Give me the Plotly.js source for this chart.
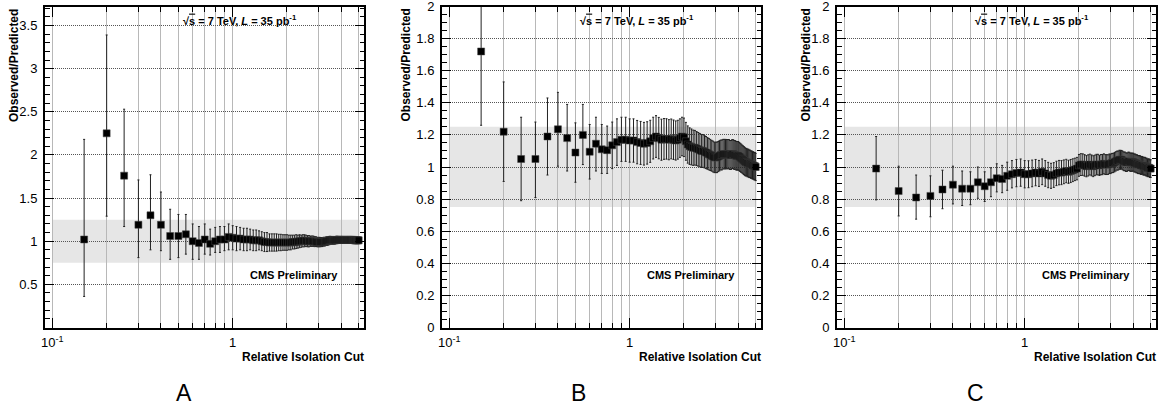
<!DOCTYPE html>
<html>
<head>
<meta charset="utf-8">
<script src="https://cdn.plot.ly/plotly-3.0.1.min.js"></script>
<style>html,body{margin:0;padding:0;background:#fff;}#chart{width:1161px;height:407px;}</style>
</head>
<body>
<div id="chart"></div>
<script>
// Relative isolation cut values (shared by all three panels)
const isoCut = [0.15,0.2,0.25,0.3,0.35,0.4,0.45,0.5,0.55,0.6,0.65,0.7,0.75,0.8,0.85,0.9,0.95,
1.0,1.05,1.1,1.15,1.2,1.25,1.3,1.35,1.4,1.45,1.5,1.55,1.6,1.65,1.7,1.75,1.8,1.85,1.9,1.95,
2.0,2.05,2.1,2.15,2.2,2.25,2.3,2.35,2.4,2.45,2.5,2.55,2.6,2.65,2.7,2.75,2.8,2.85,2.9,2.95,
3.0,3.05,3.1,3.15,3.2,3.25,3.3,3.35,3.4,3.45,3.5,3.55,3.6,3.65,3.7,3.75,3.8,3.85,3.9,3.95,
4.0,4.05,4.1,4.15,4.2,4.25,4.3,4.35,4.4,4.45,4.5,4.55,4.6,4.65,4.7,4.75,4.8,4.85,4.9,4.95,5.0];

// Panel A
const ratioA = [1.02,2.25,1.76,1.19,1.30,1.19,1.06,1.06,1.08,1.00,0.98,1.02,0.97,1.00,1.02,1.02,1.05,
1.04,1.03,1.03,1.02,1.02,1.02,1.01,1.01,1.01,1.00,0.99,0.99,0.985,0.985,0.985,0.985,0.985,0.985,0.985,0.985,
0.985,0.985,0.985,0.99,0.99,0.995,0.995,1.00,1.00,1.005,1.005,1.005,1.00,1.00,1.00,1.00,1.00,0.995,0.995,0.99,
0.99,0.99,0.99,0.99,0.995,0.995,1.00,1.00,1.005,1.01,1.01,1.01,1.01,1.01,1.01,1.015,1.015,1.015,1.015,1.015,
1.015,1.015,1.015,1.015,1.015,1.015,1.015,1.015,1.015,1.015,1.015,1.015,1.015,1.015,1.015,1.01,1.01,1.01,1.01,1.01,1.01];
const errUpA = [1.16,1.14,0.77,0.52,0.47,0.38,0.31,0.25,0.23,0.20,0.19,0.18,0.17,0.16,0.15,0.15,0.15,
0.14,0.14,0.13,0.13,0.13,0.12,0.12,0.12,0.11,0.11,0.11,0.11,0.10,0.10,0.10,0.10,0.095,0.095,0.09,0.09,
0.09,0.085,0.085,0.08,0.08,0.08,0.075,0.075,0.07,0.07,0.07,0.065,0.065,0.065,0.06,0.06,0.06,0.058,0.056,0.055,
0.055,0.054,0.053,0.052,0.051,0.05,0.05,0.049,0.048,0.047,0.046,0.045,0.045,0.044,0.043,0.042,0.042,0.041,0.04,0.04,
0.04,0.04,0.039,0.039,0.038,0.038,0.037,0.037,0.037,0.036,0.036,0.036,0.035,0.035,0.035,0.035,0.034,0.034,0.034,0.034,0.034];
const errDnA = [0.66,0.96,0.59,0.38,0.40,0.30,0.27,0.25,0.23,0.21,0.19,0.17,0.13,0.13,0.15,0.13,0.15,
0.14,0.14,0.13,0.13,0.13,0.12,0.12,0.12,0.11,0.11,0.11,0.11,0.10,0.10,0.10,0.10,0.095,0.095,0.09,0.09,
0.09,0.085,0.085,0.08,0.08,0.08,0.075,0.075,0.07,0.07,0.07,0.065,0.065,0.065,0.06,0.06,0.06,0.058,0.056,0.055,
0.055,0.054,0.053,0.052,0.051,0.05,0.05,0.049,0.048,0.047,0.046,0.045,0.045,0.044,0.043,0.042,0.042,0.041,0.04,0.04,
0.04,0.04,0.039,0.039,0.038,0.038,0.037,0.037,0.037,0.036,0.036,0.036,0.035,0.035,0.035,0.035,0.034,0.034,0.034,0.034,0.034];

// Panel B
const ratioB = [1.72,1.22,1.05,1.05,1.19,1.235,1.18,1.09,1.20,1.095,1.145,1.11,1.105,1.135,1.155,1.17,1.17,
1.165,1.165,1.155,1.15,1.145,1.15,1.16,1.18,1.19,1.18,1.17,1.175,1.175,1.17,1.175,1.17,1.165,1.17,1.18,1.19,
1.185,1.16,1.14,1.13,1.125,1.12,1.12,1.115,1.11,1.105,1.10,1.10,1.095,1.09,1.085,1.08,1.075,1.07,1.065,1.06,
1.06,1.06,1.065,1.07,1.075,1.075,1.08,1.08,1.08,1.08,1.08,1.08,1.075,1.075,1.08,1.08,1.075,1.075,1.07,1.07,
1.07,1.065,1.06,1.055,1.05,1.045,1.04,1.035,1.03,1.03,1.025,1.025,1.02,1.02,1.015,1.015,1.01,1.01,1.005,1.005,1.0];
const errUpB = [0.50,0.31,0.26,0.23,0.24,0.23,0.21,0.185,0.19,0.17,0.165,0.155,0.15,0.145,0.145,0.14,0.14,
0.135,0.135,0.135,0.134,0.133,0.132,0.131,0.13,0.13,0.129,0.128,0.127,0.126,0.125,0.124,0.123,0.122,0.121,0.12,0.12,
0.12,0.118,0.116,0.114,0.112,0.11,0.108,0.106,0.105,0.104,0.103,0.102,0.101,0.10,0.099,0.098,0.097,0.096,0.096,0.095,
0.095,0.095,0.094,0.094,0.093,0.093,0.092,0.092,0.092,0.091,0.091,0.091,0.09,0.09,0.09,0.09,0.09,0.089,0.089,0.089,
0.089,0.088,0.088,0.088,0.087,0.087,0.087,0.087,0.086,0.086,0.086,0.086,0.086,0.085,0.085,0.085,0.085,0.085,0.085,0.085,0.085];
const errDnB = [0.46,0.31,0.26,0.24,0.24,0.23,0.205,0.185,0.185,0.17,0.17,0.15,0.145,0.145,0.145,0.135,0.135,
0.135,0.135,0.135,0.134,0.133,0.132,0.131,0.13,0.13,0.129,0.128,0.127,0.126,0.125,0.124,0.123,0.122,0.121,0.12,0.12,
0.12,0.118,0.116,0.114,0.112,0.11,0.108,0.106,0.105,0.104,0.103,0.102,0.101,0.10,0.099,0.098,0.097,0.096,0.096,0.095,
0.095,0.095,0.094,0.094,0.093,0.093,0.092,0.092,0.092,0.091,0.091,0.091,0.09,0.09,0.09,0.09,0.09,0.089,0.089,0.089,
0.089,0.088,0.088,0.088,0.087,0.087,0.087,0.087,0.086,0.086,0.086,0.086,0.086,0.085,0.085,0.085,0.085,0.085,0.085,0.085,0.085];

// Panel C
const ratioC = [0.99,0.85,0.81,0.82,0.86,0.89,0.865,0.865,0.905,0.88,0.905,0.93,0.925,0.945,0.955,0.962,0.965,
0.955,0.955,0.96,0.965,0.96,0.97,0.96,0.95,0.945,0.95,0.96,0.965,0.965,0.97,0.975,0.97,0.975,0.98,0.985,0.99,
1.01,1.015,1.015,1.01,1.005,1.01,1.015,1.01,1.005,1.01,1.015,1.015,1.01,1.015,1.015,1.02,1.015,1.015,1.015,1.02,
1.02,1.025,1.025,1.03,1.035,1.04,1.04,1.045,1.045,1.045,1.04,1.035,1.035,1.03,1.03,1.035,1.035,1.03,1.03,1.03,
1.03,1.025,1.025,1.02,1.02,1.015,1.015,1.015,1.01,1.01,1.01,1.005,1.005,1.005,1.0,1.0,0.995,0.995,0.995,0.99,0.99];
const errUpC = [0.20,0.155,0.14,0.125,0.12,0.115,0.11,0.105,0.095,0.09,0.09,0.09,0.085,0.085,0.085,0.085,0.085,
0.085,0.084,0.083,0.082,0.081,0.08,0.08,0.079,0.078,0.077,0.076,0.076,0.075,0.074,0.073,0.072,0.072,0.071,0.07,0.07,
0.068,0.068,0.067,0.067,0.066,0.066,0.065,0.065,0.065,0.064,0.064,0.064,0.063,0.063,0.063,0.062,0.062,0.062,0.061,0.061,
0.061,0.06,0.06,0.06,0.06,0.059,0.059,0.059,0.059,0.058,0.058,0.058,0.058,0.058,0.057,0.057,0.057,0.057,0.057,0.056,
0.056,0.056,0.056,0.056,0.056,0.056,0.056,0.056,0.056,0.056,0.055,0.055,0.055,0.055,0.055,0.055,0.055,0.055,0.055,0.055,0.055];
const errDnC = [0.195,0.155,0.135,0.13,0.12,0.12,0.105,0.10,0.10,0.095,0.09,0.085,0.085,0.09,0.085,0.085,0.085,
0.085,0.084,0.083,0.082,0.081,0.08,0.08,0.079,0.078,0.077,0.076,0.076,0.075,0.074,0.073,0.072,0.072,0.071,0.07,0.07,
0.068,0.068,0.067,0.067,0.066,0.066,0.065,0.065,0.065,0.064,0.064,0.064,0.063,0.063,0.063,0.062,0.062,0.062,0.061,0.061,
0.061,0.06,0.06,0.06,0.06,0.059,0.059,0.059,0.059,0.058,0.058,0.058,0.058,0.058,0.057,0.057,0.057,0.057,0.057,0.056,
0.056,0.056,0.056,0.056,0.056,0.056,0.056,0.056,0.056,0.056,0.055,0.055,0.055,0.055,0.055,0.055,0.055,0.055,0.055,0.055,0.055];

// Tick labels
const xMajorTicks = [0.1, 1];
const xMajorLabels = ['10<sup>-1</sup>', '1'];
const xMinorTicks = [0.2,0.3,0.4,0.5,0.6,0.7,0.8,0.9,2,3,4,5];
const yTicksA = [0.5,1,1.5,2,2.5,3,3.5];
const yTicksBC = [0,0.2,0.4,0.6,0.8,1,1.2,1.4,1.6,1.8,2];
const yLabelsBC = ['0','0.2','0.4','0.6','0.8','1','1.2','1.4','1.6','1.8','2'];
const panelLabels = ['A','B','C'];
const energyText = '√<span style="text-decoration:overline">s</span> = 7 TeV, <i>L</i> = 35 pb<sup>-1</sup>';
const prelimText = 'CMS Preliminary';
const xTitle = 'Relative Isolation Cut';
const yTitle = 'Observed/Predicted';
const bandLow = 0.75, bandHigh = 1.25;

// ---------- layout geometry ----------
const W = 1161, H = 407;
const plotLeft = [45, 442, 837];
const plotWidth = 319;
const plotTop = 6.5, plotBottom = 327.5;
const yTitleX = [14.5, 406, 806];
const labelX = [184, 578, 975];
const px = v => v / W;
const py = v => 1 - v / H;

const FONT = 'Liberation Sans, Arial, Helvetica, sans-serif';
const series = [
  {y: ratioA, up: errUpA, dn: errDnA, yrange: [0, 3.72], yt: yTicksA, yl: null, minor: 0.1},
  {y: ratioB, up: errUpB, dn: errDnB, yrange: [0, 2.0], yt: yTicksBC, yl: yLabelsBC, minor: 0.05},
  {y: ratioC, up: errUpC, dn: errDnC, yrange: [0, 2.0], yt: yTicksBC, yl: yLabelsBC, minor: 0.05}
];

const data = [];
const layout = {
  width: W, height: H,
  margin: {l: 0, r: 0, t: 0, b: 0},
  paper_bgcolor: '#ffffff', plot_bgcolor: '#ffffff',
  showlegend: false,
  font: {family: FONT, color: '#000'},
  shapes: [], annotations: []
};

series.forEach((s, i) => {
  const n = i === 0 ? '' : String(i + 1);
  const L = plotLeft[i];
  data.push({
    type: 'scatter', mode: 'markers',
    x: isoCut, y: s.y,
    xaxis: 'x' + n, yaxis: 'y' + n,
    marker: {symbol: 'square', size: 7, color: '#000', line: {width: 0.5, color: '#444'}},
    error_y: {type: 'data', symmetric: false, array: s.up, arrayminus: s.dn,
              color: '#222', thickness: 1, width: 1},
    hoverinfo: 'x+y'
  });
  layout['xaxis' + n] = {
    type: 'log', anchor: 'y' + n,
    domain: [px(L), px(L + plotWidth)],
    range: [Math.log10(0.091), Math.log10(5.35)],
    tickmode: 'array', tickvals: xMajorTicks, ticktext: xMajorLabels,
    ticks: 'inside', ticklen: 10, tickwidth: 1, tickcolor: '#000',
    minor: {tickmode: 'array', tickvals: xMinorTicks, ticks: 'inside', ticklen: 5, tickwidth: 1,
            tickcolor: '#000', showgrid: true, gridcolor: '#b8b8b8', gridwidth: 1},
    showgrid: true, gridcolor: '#b8b8b8', gridwidth: 1,
    showline: true, linecolor: '#000', linewidth: 2, mirror: 'allticks',
    zeroline: false,
    tickfont: {family: FONT, size: 13, color: '#000'},
    ticklabelstandoff: 2, ticklabeloverflow: 'allow'
  };
  const ya = {
    anchor: 'x' + n,
    domain: [py(plotBottom), py(plotTop)],
    range: s.yrange,
    tickmode: 'array', tickvals: s.yt,
    ticks: 'inside', ticklen: 9, tickwidth: 1, tickcolor: '#000',
    minor: {dtick: s.minor, tick0: 0, ticks: 'inside', ticklen: 4.5, tickwidth: 1, tickcolor: '#000', showgrid: false},
    showgrid: true, gridcolor: '#555', gridwidth: 1, griddash: '1px,1px',
    showline: true, linecolor: '#000', linewidth: 2, mirror: 'allticks',
    zeroline: false,
    tickfont: {family: FONT, size: 13, color: '#000'},
    ticklabelstandoff: 3, ticklabeloverflow: 'allow'
  };
  if (s.yl) ya.ticktext = s.yl;
  layout['yaxis' + n] = ya;
  layout.shapes.push({
    type: 'rect', xref: 'x' + n, yref: 'y' + n, layer: 'below',
    x0: 0.1, x1: 5.05, y0: bandLow, y1: bandHigh,
    fillcolor: '#e6e6e6', line: {width: 0}
  });
  layout.annotations.push(
    {xref: 'paper', yref: 'paper', x: px(L + 195), y: py(20), xanchor: 'center', yanchor: 'middle',
     text: '<b>' + energyText + '</b>', showarrow: false, font: {family: FONT, size: 11, color: '#000'}},
    {xref: 'paper', yref: 'paper', x: px(L + 249), y: py(275), xanchor: 'center', yanchor: 'middle',
     text: '<b>' + prelimText + '</b>', showarrow: false, font: {family: FONT, size: 11, color: '#000'}},
    {xref: 'paper', yref: 'paper', x: px(L + 321), y: py(357), xanchor: 'right', yanchor: 'middle',
     text: '<b>' + xTitle + '</b>', showarrow: false, font: {family: FONT, size: 12, color: '#000'}},
    {xref: 'paper', yref: 'paper', x: px(yTitleX[i]), y: py(7), xanchor: 'center', yanchor: 'top',
     textangle: -90, text: '<b>' + yTitle + '</b>', showarrow: false, font: {family: FONT, size: 12, color: '#000'}},
    {xref: 'paper', yref: 'paper', x: px(labelX[i]), y: py(393), xanchor: 'center', yanchor: 'middle',
     text: panelLabels[i], showarrow: false, font: {family: FONT, size: 23, color: '#000'}}
  );
});

Plotly.newPlot('chart', data, layout, {staticPlot: true, displayModeBar: false});
</script>
</body>
</html>
